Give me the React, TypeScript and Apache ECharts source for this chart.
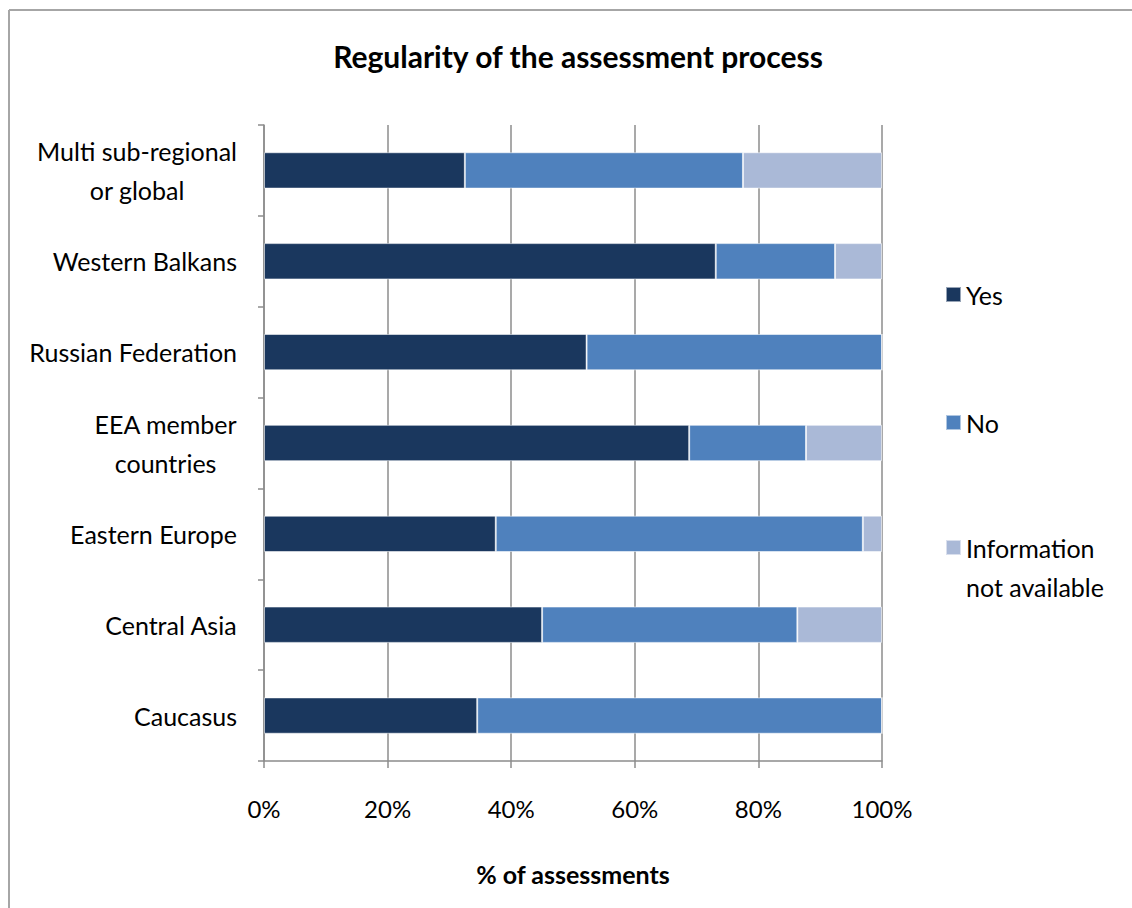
import React, { useEffect, useRef } from "react";
import * as echarts from "echarts";

const categories = [
  "Multi sub-regional\nor global",
  "Western Balkans",
  "Russian Federation",
  "EEA member\ncountries",
  "Eastern Europe",
  "Central Asia",
  "Caucasus",
];
const yesValues = [32.5, 73.1, 52.2, 68.8, 37.5, 45.0, 34.5];
const noValues = [45.0, 19.3, 47.8, 18.9, 59.4, 41.3, 65.5];
const naValues = [22.5, 7.6, 0, 12.3, 3.1, 13.7, 0];
const seriesNames = ["Yes", "No", "Information not available"];
const colors = ["#1a375e", "#4f81bd", "#aab9d7"];
const xTicks = [0, 20, 40, 60, 80, 100];

const FONT = "Lato, 'Open Sans', sans-serif";
const LABEL_SIZE = 25;

export default function App() {
  const ref = useRef<HTMLDivElement>(null);
  useEffect(() => {
    document.body.style.margin = "0";
    const chart = echarts.init(ref.current!, null, { renderer: "svg" });
    const values = [yesValues, noValues, naValues];
    const legendText = { fontFamily: FONT, fontSize: LABEL_SIZE, color: "#000", lineHeight: 39 };
    const option: any = {
      animation: false,
      backgroundColor: "#ffffff",
      textStyle: { fontFamily: FONT, color: "#000" },
      title: {
        text: "Regularity of the assessment process",
        left: 573,
        textAlign: "center",
        top: 36,
        textStyle: { fontFamily: FONT, fontSize: 30, fontWeight: "bold", color: "#000" },
      },
      legend: [
        {
          data: [seriesNames[0]],
          left: 945,
          top: 275,
          padding: 0,
          orient: "vertical",
          itemWidth: 15,
          itemHeight: 15,
          icon: "rect",
          selectedMode: false,
          textStyle: legendText,
        },
        {
          data: [seriesNames[1]],
          left: 945,
          top: 403,
          padding: 0,
          orient: "vertical",
          itemWidth: 15,
          itemHeight: 15,
          icon: "rect",
          selectedMode: false,
          textStyle: legendText,
        },
        {
          data: [seriesNames[2]],
          left: 945,
          top: 489,
          padding: 0,
          orient: "vertical",
          itemWidth: 15,
          itemHeight: 15,
          icon: "rect",
          selectedMode: false,
          formatter: () => "\nInformation\nnot available",
          textStyle: legendText,
        },
      ],
      grid: { left: 264, right: 250, top: 125, bottom: 147, containLabel: false },
      xAxis: {
        type: "value",
        min: xTicks[0],
        max: xTicks[xTicks.length - 1],
        interval: 20,
        name: "% of assessments",
        nameLocation: "middle",
        nameGap: 100,
        nameTextStyle: { fontFamily: FONT, fontSize: LABEL_SIZE, fontWeight: "bold", color: "#000" },
        axisLine: { show: true, lineStyle: { color: "#8c8c8c", width: 1.5 } },
        axisTick: { show: true, length: 7, lineStyle: { color: "#8c8c8c", width: 1.5 } },
        splitLine: { show: true, lineStyle: { color: "#8c8c8c", width: 1.5 } },
        axisLabel: {
          formatter: "{value}%",
          margin: 35,
          fontFamily: FONT,
          fontSize: 24,
          color: "#000",
        },
      },
      yAxis: {
        type: "category",
        inverse: true,
        data: categories,
        axisLine: { show: true, lineStyle: { color: "#8c8c8c", width: 1.5 } },
        axisTick: { show: true, length: 6, alignWithLabel: false, lineStyle: { color: "#8c8c8c", width: 1.5 } },
        splitLine: { show: false },
        axisLabel: {
          margin: 27,
          fontFamily: FONT,
          fontSize: LABEL_SIZE,
          color: "#000",
          lineHeight: 39,
          formatter: (v: string) =>
            v
              .split("\n")
              .map((s) => "{c|" + s + "}")
              .join("\n"),
          rich: { c: { align: "center", fontFamily: FONT, fontSize: LABEL_SIZE, color: "#000", lineHeight: 39 } },
        },
      },
      series: seriesNames.map((name, i) => ({
        name,
        type: "bar",
        stack: "total",
        barWidth: "40%",
        data: values[i],
        itemStyle: { color: colors[i], borderColor: "rgba(255,255,255,0.55)", borderWidth: 1 },
      })),
      graphic: [
        {
          type: "line",
          shape: { x1: 9, y1: 10, x2: 1132, y2: 10 },
          style: { stroke: "#a6a6a6", lineWidth: 2 },
          silent: true,
        },
        {
          type: "line",
          shape: { x1: 9, y1: 10, x2: 9, y2: 908 },
          style: { stroke: "#a6a6a6", lineWidth: 2 },
          silent: true,
        },
      ],
    };
    chart.setOption(option);
    return () => chart.dispose();
  }, []);
  return <div ref={ref} style={{ width: 1132, height: 908 }} />;
}
